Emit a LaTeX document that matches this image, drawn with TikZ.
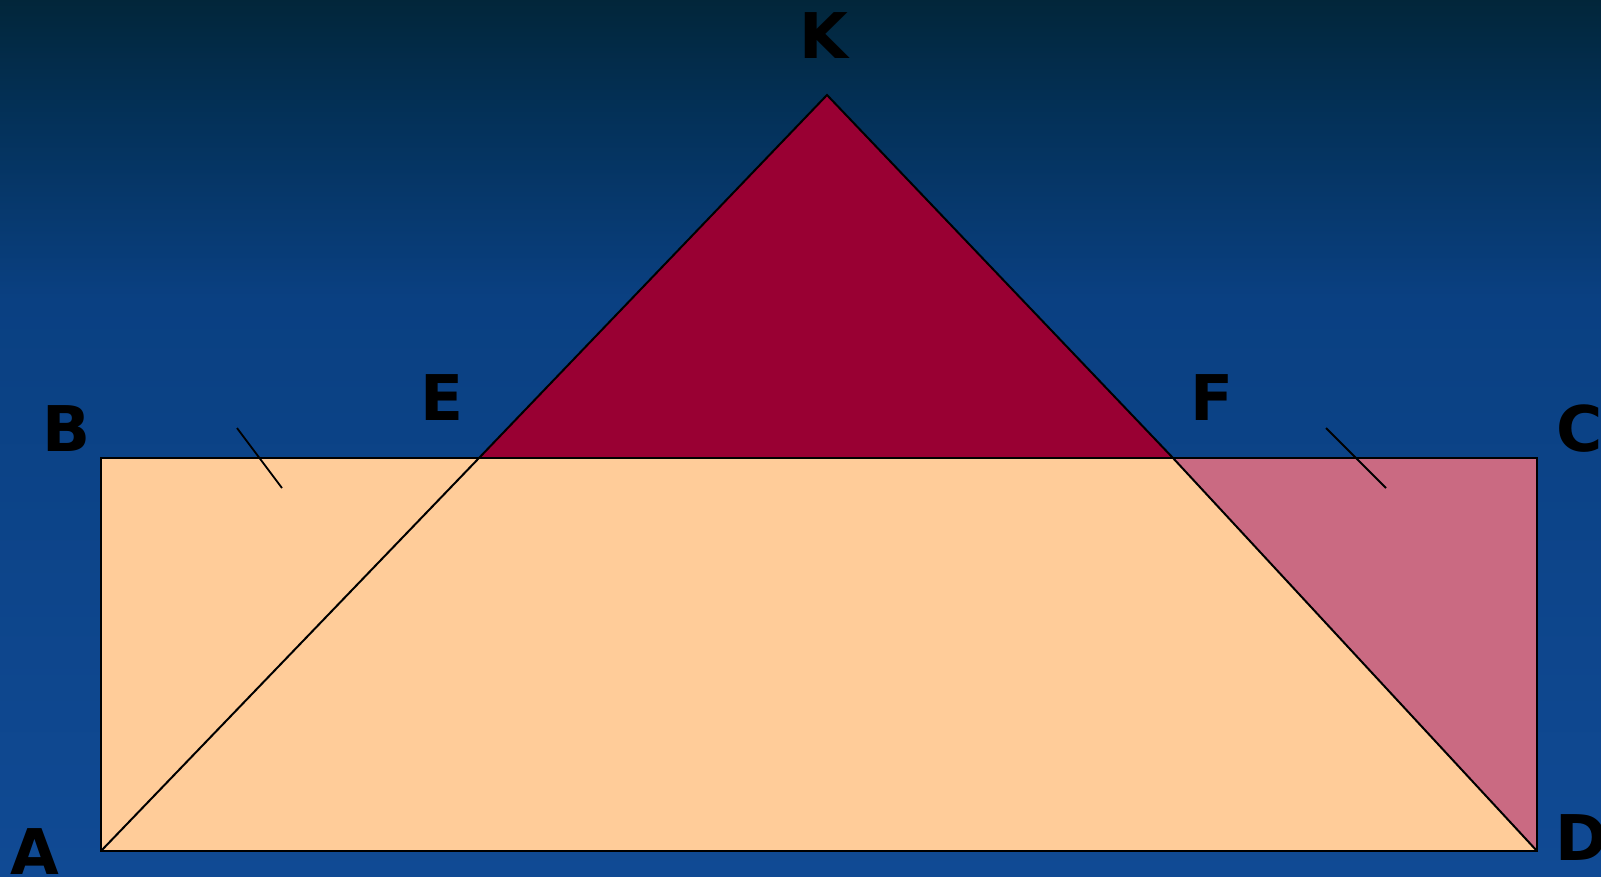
\documentclass[tikz,border=0pt]{standalone}
\usepackage{fontspec}
\setmainfont{DejaVu Sans}
\begin{document}
\begin{tikzpicture}[x=1pt,y=-1pt,
  lbl/.style={font=\fontsize{63}{63}\selectfont\bfseries, text=black, inner sep=0pt, anchor=center},
  edge/.style={draw=black, line width=2pt, line join=miter},
  tick/.style={draw=black, line width=1.8pt}]
\definecolor{bgtop}{RGB}{2,38,58}
\definecolor{bgmid}{RGB}{3,48,86}
\definecolor{bgblue}{RGB}{10,64,130}
\definecolor{bglow}{RGB}{16,74,148}
\definecolor{peach}{RGB}{255,204,153}
\definecolor{crimson}{RGB}{153,0,51}
\definecolor{rose}{RGB}{202,106,130}
\useasboundingbox (0,0) rectangle (1601,876);
% background
\shade[top color=bgtop, bottom color=bgmid] (0,0) rectangle (1601,105);
\shade[top color=bgmid, bottom color=bgblue] (0,105) rectangle (1601,300);
\shade[top color=bgblue, bottom color=bglow] (0,300) rectangle (1601,876);
% points
\coordinate (A) at (101,851);
\coordinate (B) at (101,458);
\coordinate (C) at (1537,458);
\coordinate (D) at (1537,851);
\coordinate (K) at (827,95);
\coordinate (E) at (479,458);
\coordinate (F) at (1173,458);
% shapes
\fill[peach] (A) -- (B) -- (C) -- (D) -- cycle;
\fill[rose] (F) -- (C) -- (D) -- cycle;
\fill[crimson] (E) -- (K) -- (F) -- cycle;
\draw[edge] (A) -- (B) -- (C) -- (D) -- cycle;
\draw[edge] (A) -- (E) -- (K) -- (F) -- (D);
% ticks
\coordinate (t1a) at (237,428); \coordinate (t1b) at (282,488);
\coordinate (t2a) at (1326,428); \coordinate (t2b) at (1386,488);
\draw[tick] (t1a) -- (t1b);
\draw[tick] (t2a) -- (t2b);
% labels
\node[lbl] (lK) at (824,36) {K};
\node[lbl] (lE) at (442,398) {E};
\node[lbl] (lF) at (1212,398) {F};
\node[lbl] (lB) at (67,429) {B};
\node[lbl] (lC) at (1580,429) {C};
\node[lbl] (lA) at (35,852) {A};
\node[lbl] (lD) at (1582,838) {D};
\end{tikzpicture}
\end{document}
